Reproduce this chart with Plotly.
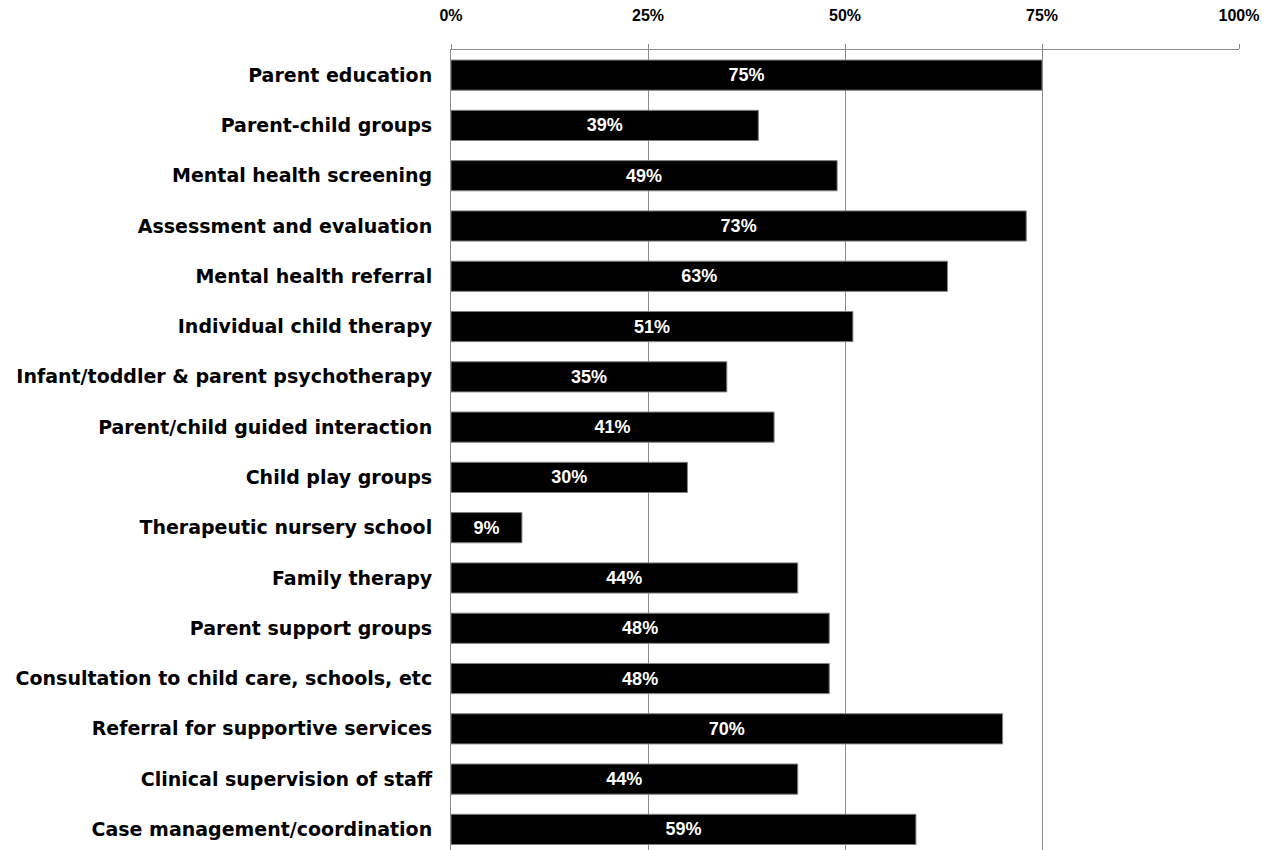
import plotly.graph_objects as go

categories = [
    "Parent education",
    "Parent-child groups",
    "Mental health screening",
    "Assessment and evaluation",
    "Mental health referral",
    "Individual child therapy",
    "Infant/toddler & parent psychotherapy",
    "Parent/child guided interaction",
    "Child play groups",
    "Therapeutic nursery school",
    "Family therapy",
    "Parent support groups",
    "Consultation to child care, schools, etc",
    "Referral for supportive services",
    "Clinical supervision of staff",
    "Case management/coordination",
]
values = [75, 39, 49, 73, 63, 51, 35, 41, 30, 9, 44, 48, 48, 70, 44, 59]
tick_vals = [0, 25, 50, 75, 100]
tick_text = ["0%", "25%", "50%", "75%", "100%"]

fig = go.Figure(go.Bar(
    x=values,
    y=categories,
    orientation="h",
    width=0.6,
    marker=dict(color="black", line=dict(color="#808080", width=1)),
    text=[f"{v}%" for v in values],
    textposition="inside",
    insidetextanchor="middle",
    textangle=0,
    textfont=dict(family="Liberation Sans", size=18, color="white", weight="bold"),
    hoverinfo="skip",
))

fig.update_layout(
    width=1262, height=850,
    margin=dict(l=451, r=23, t=50, b=0),
    plot_bgcolor="white", paper_bgcolor="white",
    showlegend=False,
    uniformtext=dict(mode=False),
)
fig.update_xaxes(
    range=[0, 100], side="top",
    tickvals=tick_vals, ticktext=tick_text,
    tickfont=dict(family="Liberation Sans", size=16, color="black", weight="bold"),
    showgrid=True, gridcolor="#8c8c8c", gridwidth=1,
    showline=True, linecolor="#8c8c8c", linewidth=1,
    ticks="outside", ticklen=5, tickcolor="#8c8c8c",
    ticklabelstandoff=17,
    zeroline=False, automargin=False,
)
fig.update_yaxes(
    range=[15.41, -0.5],
    tickfont=dict(family="DejaVu Sans", size=19, color="black", weight="bold"),
    showline=True, linecolor="#8c8c8c", linewidth=1,
    ticks="", ticklabelstandoff=14,
    showgrid=False, automargin=False,
)

fig.write_html(
    "out.html",
    config={"displayModeBar": False},
    post_script="document.body.style.margin='0';document.body.style.overflow='hidden';",
)
